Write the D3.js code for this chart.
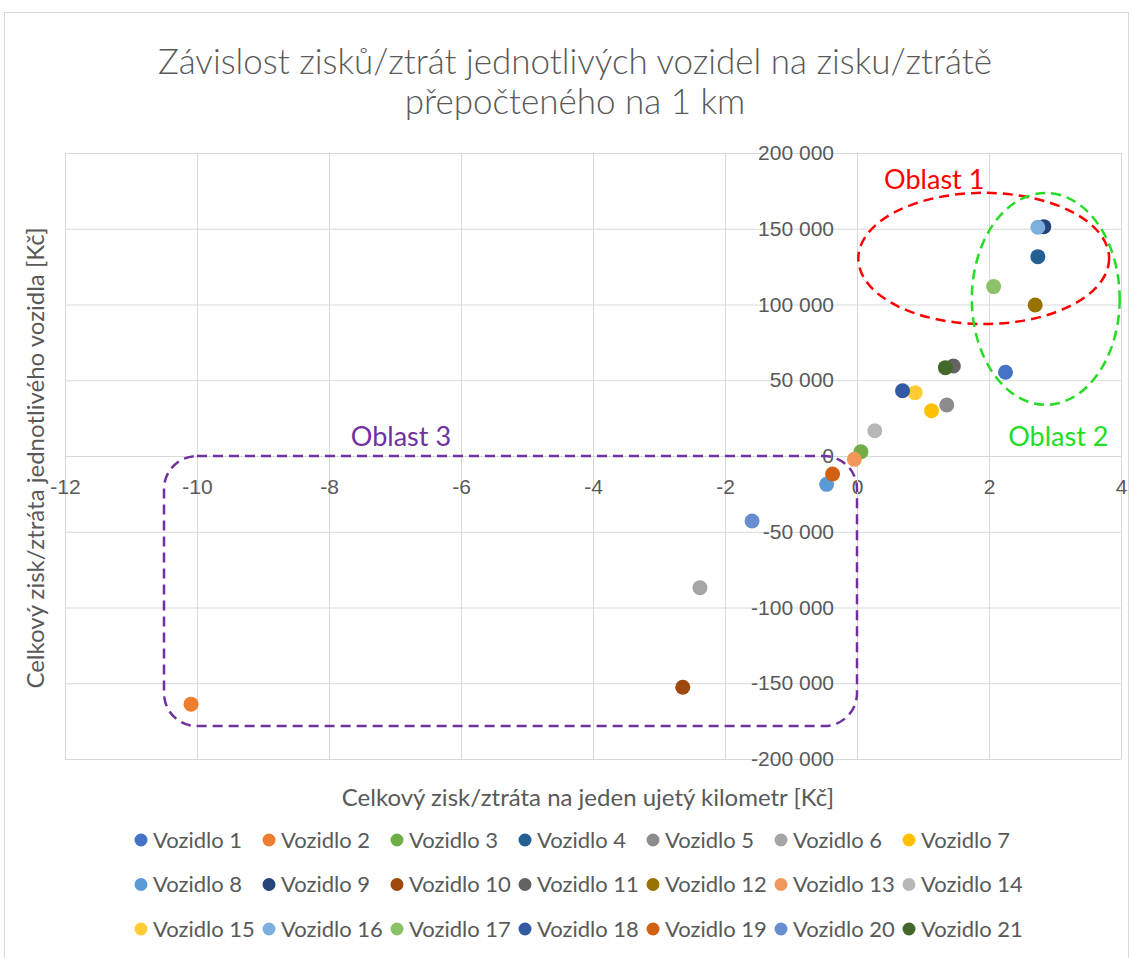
<!DOCTYPE html>
<html>
<head>
<meta charset="utf-8">
<script src="https://cdn.jsdelivr.net/npm/d3@7"></script>
<style>
  html, body { margin: 0; padding: 0; background: #fff; }
  #chart { width: 1132px; height: 958px; font-family: Lato, "Open Sans", sans-serif; }
</style>
</head>
<body>
<div id="chart"></div>
<script>
// vehicles and their values (x = profit per km, y = total profit)
const vehicles = ["Vozidlo 1", "Vozidlo 2", "Vozidlo 3", "Vozidlo 4", "Vozidlo 5", "Vozidlo 6", "Vozidlo 7",
  "Vozidlo 8", "Vozidlo 9", "Vozidlo 10", "Vozidlo 11", "Vozidlo 12", "Vozidlo 13", "Vozidlo 14",
  "Vozidlo 15", "Vozidlo 16", "Vozidlo 17", "Vozidlo 18", "Vozidlo 19", "Vozidlo 20", "Vozidlo 21"];
const perKm = [2.25, -10.09, 0.06, 2.74, 1.36, -2.38, 1.13, -0.46, 2.83, -2.64, 1.46,
  2.70, -0.04, 0.27, 0.88, 2.74, 2.07, 0.69, -0.37, -1.59, 1.34];
const totalProfit = [55300, -163800, 2800, 131600, 33700, -87000, 29900, -18700, 151400, -152600, 59400,
  99700, -2200, 16700, 41800, 151000, 111800, 43100, -11900, -42900, 58300];
const colors = ["#4472C4", "#ED7D31", "#70AD47", "#255E91", "#8C8C8C", "#A5A5A5", "#FFC000",
  "#5B9BD5", "#264478", "#9E480E", "#636363", "#997300", "#F1975A", "#B7B7B7",
  "#FFCD33", "#7CAFDD", "#8CC168", "#335AA1", "#D26012", "#698ED0", "#43682B"];

const xTicks = [-12, -10, -8, -6, -4, -2, 0, 2, 4];
const yTicks = [-200000, -150000, -100000, -50000, 0, 50000, 100000, 150000, 200000];

// highlighted areas
const areaLabels = ["Oblast 1", "Oblast 2", "Oblast 3"];
const areaColors = ["#FF0000", "#22DD22", "#7030A0"];

(function() {
    const width = 1132, height = 958;
    const plot = {left: 65, right: 1121, top: 153, bottom: 759};

    const svg = d3.select("#chart").append("svg")
        .attr("width", width)
        .attr("height", height);

    // chart border
    svg.append("rect")
        .attr("x", 4.5).attr("y", 12.5)
        .attr("width", 1124).attr("height", 960)
        .attr("fill", "none")
        .attr("stroke", "#D9D9D9");

    const x = d3.scaleLinear().domain([-12, 4]).range([plot.left, plot.right]);
    const y = d3.scaleLinear().domain([-200000, 200000]).range([plot.bottom, plot.top]);

    const loc = d3.formatLocale({decimal: ",", thousands: " ", grouping: [3], currency: ["", ""], minus: "-"});
    const fmt = loc.format(",d");

    // gridlines
    svg.append("g")
        .attr("transform", `translate(0,${plot.bottom})`)
        .call(d3.axisBottom(x).tickValues(xTicks).tickSize(-(plot.bottom - plot.top)).tickFormat(""))
        .call(g => g.select(".domain").remove())
        .call(g => g.selectAll("line").attr("stroke", "#D9D9D9"));
    svg.append("g")
        .attr("transform", `translate(${plot.left},0)`)
        .call(d3.axisLeft(y).tickValues(yTicks).tickSize(-(plot.right - plot.left)).tickFormat(""))
        .call(g => g.select(".domain").remove())
        .call(g => g.selectAll("line").attr("stroke", "#D9D9D9"));

    // axes through zero
    const xAxis = svg.append("g")
        .attr("transform", `translate(0,${y(0)})`)
        .call(d3.axisBottom(x).tickValues(xTicks).tickSize(0).tickPadding(23).tickFormat(fmt));
    xAxis.select(".domain").attr("stroke", "#D9D9D9");
    xAxis.selectAll("text")
        .style("font-family", "inherit")
        .style("font-size", "21px")
        .attr("fill", "#595959");

    const yAxis = svg.append("g")
        .attr("transform", `translate(${x(0)},0)`)
        .call(d3.axisLeft(y).tickValues(yTicks).tickSize(0).tickPadding(23).tickFormat(fmt));
    yAxis.select(".domain").attr("stroke", "#D9D9D9");
    yAxis.selectAll("text")
        .style("font-family", "inherit")
        .style("font-size", "21px")
        .attr("fill", "#595959");

    // highlighted areas
    const dash = "10,6";
    svg.append("ellipse")
        .attr("cx", x(1.92)).attr("cy", y(130400))
        .attr("rx", x(1.90) - x(0)).attr("ry", y(0) - y(43300))
        .attr("fill", "none").attr("stroke", areaColors[0])
        .attr("stroke-width", 2.5).attr("stroke-dasharray", dash);
    svg.append("ellipse")
        .attr("cx", x(2.86)).attr("cy", y(103700))
        .attr("rx", x(1.12) - x(0)).attr("ry", y(0) - y(69900))
        .attr("fill", "none").attr("stroke", areaColors[1])
        .attr("stroke-width", 2.5).attr("stroke-dasharray", dash);
    svg.append("rect")
        .attr("x", x(-10.5)).attr("y", y(0))
        .attr("width", x(0) - x(-10.5)).attr("height", y(-178300) - y(0))
        .attr("rx", 33).attr("ry", 33)
        .attr("fill", "none").attr("stroke", areaColors[2])
        .attr("stroke-width", 2.5).attr("stroke-dasharray", dash);

    const labelPos = [[1.17, 176000], [3.05, 6600], [-6.91, 6600]];
    svg.selectAll(".area-label")
        .data(areaLabels)
        .enter()
        .append("text")
        .attr("class", "area-label")
        .attr("x", (d, i) => x(labelPos[i][0]))
        .attr("y", (d, i) => y(labelPos[i][1]))
        .attr("text-anchor", "middle")
        .style("font-size", "27px")
        .attr("fill", (d, i) => areaColors[i])
        .text(d => d);

    // points
    svg.selectAll(".dot")
        .data(vehicles)
        .enter()
        .append("circle")
        .attr("class", "dot")
        .attr("cx", (d, i) => x(perKm[i]))
        .attr("cy", (d, i) => y(totalProfit[i]))
        .attr("r", 7.5)
        .attr("fill", (d, i) => colors[i]);

    // title
    const title = svg.append("text")
        .attr("text-anchor", "middle")
        .style("font-size", "35px")
        .style("font-weight", 300)
        .attr("fill", "#595959");
    title.append("tspan").attr("x", 575).attr("y", 74)
        .text("Závislost zisků/ztrát jednotlivých vozidel na zisku/ztrátě");
    title.append("tspan").attr("x", 575).attr("y", 114)
        .text("přepočteného na 1 km");

    // axis titles
    svg.append("text")
        .attr("x", 588).attr("y", 806)
        .attr("text-anchor", "middle")
        .style("font-size", "24px")
        .attr("fill", "#595959")
        .text("Celkový zisk/ztráta na jeden ujetý kilometr [Kč]");
    svg.append("text")
        .attr("transform", `translate(44,458) rotate(-90)`)
        .attr("text-anchor", "middle")
        .style("font-size", "24px")
        .attr("fill", "#595959")
        .text("Celkový zisk/ztráta jednotlivého vozidla [Kč]");

    // legend, 7 items per row
    const legend = svg.selectAll(".legend-item")
        .data(vehicles)
        .enter()
        .append("g")
        .attr("class", "legend-item")
        .attr("transform", (d, i) => `translate(${141 + (i % 7) * 128},${840 + Math.floor(i / 7) * 44.5})`);

    legend.append("circle")
        .attr("r", 6.5)
        .attr("fill", (d, i) => colors[i]);

    legend.append("text")
        .attr("x", 12)
        .attr("dy", "0.35em")
        .style("font-size", "22px")
        .attr("fill", "#595959")
        .text(d => d);
})();
</script>
</body>
</html>
